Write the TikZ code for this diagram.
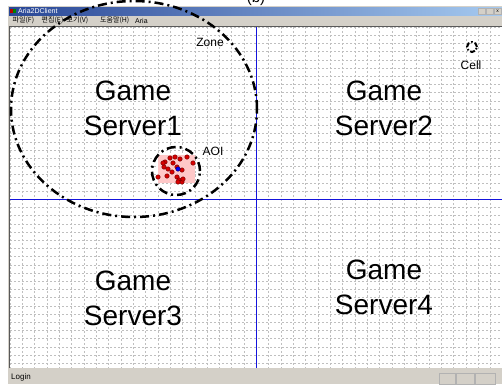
\documentclass[tikz,border=0pt]{standalone}
\usepackage{fontspec}
\setmainfont{Liberation Sans}
\newfontfamily\krfont{Noto Sans CJK KR}
\usetikzlibrary{shapes.geometric}
\definecolor{winface}{RGB}{212,208,200}
\definecolor{titledark}{RGB}{40,70,150}
\definecolor{titlelight}{RGB}{166,202,240}
\definecolor{aoipink}{RGB}{255,200,200}
\definecolor{splitblue}{RGB}{20,20,220}
\begin{document}
\begin{tikzpicture}[x=1pt, y=-1pt,
  server/.style={font=\fontsize{28}{35}\selectfont, align=center, inner sep=0pt},
  tag/.style={font=\fontsize{12}{14}\selectfont, inner sep=0pt},
  menu/.style={font=\krfont\fontsize{7}{8}\selectfont, inner sep=0pt, anchor=west},
  zoneline/.style={line width=2.5pt, dash pattern=on 9pt off 4pt on 2pt off 4pt},
  gridline/.style={gray!50, line width=0.6pt, dash pattern=on 2pt off 2pt},
  member/.style={circle, draw=red!40!black, fill=red!85!black, inner sep=0pt, minimum size=4.5pt},
  panel/.style={draw=gray!60, fill=winface},
]
\useasboundingbox (0,0) rectangle (502,384);
\clip (0,0) rectangle (502,384);

\fill[white] (0,0) rectangle (502,384);
\fill[winface] (8,6) rectangle (502,384);
\shade[left color=titledark, right color=titlelight] (9,7) rectangle (502,15);
\fill[red!70!black] (10,9) rectangle (13,13);
\fill[green!50!black] (13,9) rectangle (16,13);
\node[font=\fontsize{7}{8}\selectfont, text=white, inner sep=0pt, anchor=west] (title) at (18,11) {Aria2DClient};
\foreach \k in {0,1,2}
  \draw[panel] ({478+8*\k},8.5) rectangle ++(7,6);
\node[font=\fontsize{5}{5}\selectfont, inner sep=0pt] (btnx) at (497.5,11.5) {x};

\node[menu] (mfile) at (12.5,20.5) {파일(F)};
\node[menu] (medit) at (41.5,20.5) {편집(E)};
\node[menu] (mview) at (66.5,20.5) {보기(V)};
\node[menu] (mhelp) at (100,20.5) {도움말(H)};
\node[menu, font=\fontsize{7}{8}\selectfont] (maria) at (135,20.5) {Aria};

\fill[white] (10,27) rectangle (502,368);
\draw[gray!70!black, line width=0.8pt] (9.5,368) -- (9.5,26.5) -- (502,26.5);
\foreach \i in {0,...,39}
  \draw[gridline] ({10+12.32*\i},27) -- ++(0,341);
\foreach \j in {0,...,41}
  \draw[gridline] (10,{27.1+8.2*\j}) -- (502,{27.1+8.2*\j});
\draw[splitblue, line width=1.2pt] (256.3,27) -- (256.3,368);
\draw[splitblue, line width=1.2pt] (10,199.3) -- (502,199.3);

\node[font=\fontsize{8}{9}\selectfont, inner sep=0pt, anchor=west] (login) at (11,377.5) {Login};
\draw[panel] (439,373) rectangle (455,384);
\draw[panel] (456,373) rectangle (474,384);
\draw[panel] (475,373) rectangle (495,384);

\node[server] (gs1) at (133,108) {Game\\Server1};
\node[server] (gs2) at (384,108) {Game\\Server2};
\node[server] (gs3) at (133,298) {Game\\Server3};
\node[server] (gs4) at (384,287) {Game\\Server4};

\fill[aoipink] (158,155) rectangle (195,183);
\foreach \p in {(165,162),(170,158),(175,157),(180,159),(187,157),(193,163),
                (164,167),(168,169),(172,172),(177,167),(182,170),(158,177),
                (167,176),(177,177),(179,180),(182,182),(178,182),(183,179),
                (173,163),(163,163)}
  \node[member] at \p {};
\node[member, draw=blue!40!black, fill=blue] (centre) at (178,169) {};

\node[ellipse, draw, zoneline, minimum width=246, minimum height=216, inner sep=0pt] (zone) at (134,109) {};
\node[circle, draw, zoneline, minimum size=48, inner sep=0pt] (aoi) at (176,171) {};
\node[circle, draw, zoneline, line width=2pt, dash pattern=on 5pt off 2pt on 1.5pt off 2pt, minimum size=10, inner sep=0pt] (cell) at (472,47) {};

\node[tag] (zonelabel) at (210,42) {Zone};
\node[tag] (aoilabel) at (213,151) {AOI};
\node[tag] (celllabel) at (471,65) {Cell};
\node[font=\fontsize{15}{16}\selectfont, inner sep=0pt, anchor=base] (caption) at (256,2) {(b)};
\end{tikzpicture}
\end{document}
